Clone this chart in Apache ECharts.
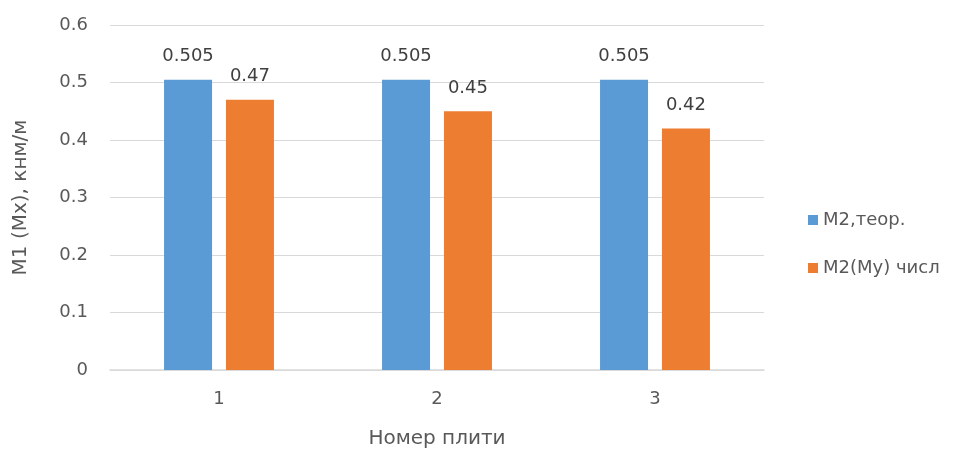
<!DOCTYPE html>
<html><head><meta charset="utf-8">
<script src="https://cdn.jsdelivr.net/npm/echarts@6/dist/echarts.min.js"></script>
<style>html,body{margin:0;padding:0;background:#fff}#c{width:958px;height:452px}</style>
</head><body><div id="c"></div>
<script>
const categories = ['1', '2', '3'];
const seriesNames = ['M2,теор.', 'M2(My) числ'];
const theoretical = [0.505, 0.505, 0.505];
const numerical = [0.47, 0.45, 0.42];
const colors = ['#5b9bd5', '#ed7d31'];
const font = '"DejaVu Sans", "Noto Sans", sans-serif';

const chart = echarts.init(document.getElementById('c'));
const mkSeries = (name, data, color) => ({
  name, type: 'bar', data, barWidth: 48, barGap: '29%',
  itemStyle: { color },
  label: { show: true, position: 'top', distance: 14, color: '#404040', fontSize: 18, fontFamily: font }
});
chart.setOption({
  animation: false,
  textStyle: { fontFamily: font },
  grid: { left: 110, right: 194, top: 25, bottom: 82, outerBoundsMode: 'none', containLabel: false },
  legend: {
    orient: 'vertical', left: 803, top: 206, itemGap: 30,
    itemWidth: 10, itemHeight: 10, icon: 'rect',
    textStyle: { color: '#595959', fontSize: 18, fontFamily: font },
    data: seriesNames
  },
  xAxis: {
    type: 'category', data: categories,
    name: 'Номер плити', nameLocation: 'middle', nameGap: 59,
    nameTextStyle: { color: '#595959', fontSize: 20, fontFamily: font },
    axisLine: { lineStyle: { color: '#d9d9d9', width: 1.5 } },
    axisTick: { show: false },
    axisLabel: { color: '#595959', fontSize: 18, margin: 20, fontFamily: font }
  },
  yAxis: {
    type: 'value', min: 0, max: 0.6, interval: 0.1,
    name: 'M1 (Mx), кнм/м', nameLocation: 'middle', nameGap: 79, nameRotate: 90,
    nameTextStyle: { color: '#595959', fontSize: 20, fontFamily: font },
    axisLine: { show: false }, axisTick: { show: false },
    axisLabel: { color: '#595959', fontSize: 18, margin: 22, fontFamily: font },
    splitLine: { lineStyle: { color: '#d9d9d9', width: 1 } }
  },
  series: [
    mkSeries(seriesNames[0], theoretical, colors[0]),
    mkSeries(seriesNames[1], numerical, colors[1])
  ]
});
</script></body></html>
